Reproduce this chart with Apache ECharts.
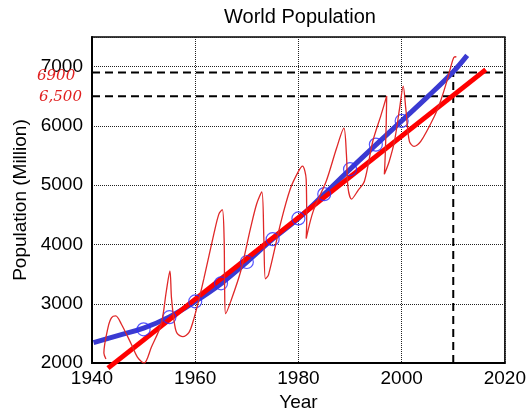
<!DOCTYPE html>
<html>
<head>
<meta charset="utf-8">
<script src="https://cdn.jsdelivr.net/npm/echarts@6/dist/echarts.min.js"></script>
<style>html,body{margin:0;padding:0;background:#fff}#c{width:529px;height:417px}</style>
</head>
<body>
<div id="c"></div>
<script>
// ---- data ----
const censusYears = [1950, 1955, 1960, 1965, 1970, 1975, 1980, 1985, 1990, 1995, 2000];
const censusPop = [2570, 2775, 3040, 3345, 3705, 4090, 4440, 4850, 5270, 5685, 6085];

const quadFitYears = [1940.3, 1945, 1950, 1955, 1960, 1965, 1970, 1975, 1980, 1985, 1990, 1995, 2000, 2005, 2010, 2012.7];
const quadFitPop = [2345, 2465, 2590, 2780, 3040, 3340, 3705, 4090, 4440, 4850, 5270, 5680, 6085, 6490, 6915, 7190];

const linFitYears = [1943.1, 2016.3];
const linFitPop = [1915, 6950];

const wiggleYears = [1942.7, 1942.3, 1943.1, 1943.8, 1944.6, 1945.7, 1947.6, 1948.8, 1950.1, 1951.5, 1953.4, 1954.4, 1955.1, 1955.4, 1956.0, 1956.5, 1957.6, 1958.8, 1959.8, 1960.8, 1961.7, 1963.7, 1964.6, 1965.25, 1965.6, 1965.7, 1965.9, 1966.9, 1968.8, 1970.7, 1971.9, 1972.9, 1973.3, 1973.6, 1974.2, 1976.6, 1978.4, 1980.0, 1980.8, 1981.5, 1981.6, 1981.5, 1982.9, 1985.4, 1987.4, 1988.8, 1989.3, 1989.6, 1990.3, 1991.5, 1992.8, 1994.4, 1996.0, 1997.1, 1997.0, 1996.8, 1996.65, 1997.6, 1998.6, 1999.6, 2000.3, 2000.8, 2001.5, 2002.4, 2003.7, 2006.3, 2007.6, 2008.8, 2009.5, 2010.1, 2010.6];
const wigglePop = [2070, 2170, 2600, 2767, 2795, 2655, 2322, 2100, 2000, 2267, 2655, 3212, 3555, 3100, 2655, 2500, 2445, 2517, 2767, 3100, 3433, 4212, 4517, 4588, 4100, 3267, 2833, 3045, 3545, 4267, 4683, 4888, 4100, 3422, 3488, 4378, 4933, 5233, 5322, 5100, 4378, 4100, 4572, 5072, 5628, 5962, 5517, 4962, 4767, 4905, 5072, 5738, 6183, 6505, 6017, 5462, 5183, 5405, 5738, 6295, 6672, 6295, 5738, 5655, 5738, 6155, 6433, 6767, 6988, 7155, 7167];

const refLevels = [6900, 6500];
const refYear = 2010;
const refYearTop = 7000;

const xTicks = [1940, 1960, 1980, 2000, 2020];
const yTicks = [2000, 3000, 4000, 5000, 6000, 7000];
const annotations = ['6900', '6,500'];

const titleText = 'World Population';
const xName = 'Year';
const yName = 'Population (Million)';

// ---- chart ----
const zip = (a, b) => a.map((v, i) => [v, b[i]]);
const chart = echarts.init(document.getElementById('c'), null, {renderer: 'canvas'});
const FONT = 'Liberation Sans, Arial, sans-serif';

const dashSeries = refLevels.map(v => ({
  type: 'line', data: [[xTicks[0], v], [xTicks[xTicks.length - 1], v]],
  symbol: 'none', lineStyle: {color: '#000', width: 2, type: [8, 5]}, z: 3, silent: true
}));

chart.setOption({
  animation: false,
  grid: {left: 92, right: 21, top: 37, bottom: 51, show: true, borderColor: '#000', borderWidth: 1.5, backgroundColor: '#fff'},
  graphic: [
    {type: 'text', x: 300, y: 7, style: {text: titleText, font: '20px ' + FONT, fill: '#000', textAlign: 'center'}, z: 10},
    {type: 'text', left: 37, top: 69, style: {text: annotations[0], font: 'italic 15px "DejaVu Serif"', fill: '#e02020'}, z: 10},
    {type: 'text', left: 39, top: 90, style: {text: annotations[1], font: 'italic 15px "DejaVu Serif"', fill: '#e02020'}, z: 10}
  ],
  xAxis: {
    type: 'value', min: 1940, max: 2020, interval: 20,
    name: xName, nameLocation: 'middle', nameGap: 26,
    nameTextStyle: {fontSize: 19, color: '#000', fontFamily: FONT},
    axisLine: {show: true, lineStyle: {color: '#000', width: 2}},
    axisTick: {show: false},
    axisLabel: {fontSize: 19, color: '#000', fontFamily: FONT, margin: 6,
      formatter: v => xTicks.includes(v) ? String(v) : ''},
    splitLine: {show: true, lineStyle: {color: '#222', width: 1, type: [1, 1]}}
  },
  yAxis: {
    type: 'value', min: 2000, max: 7500, interval: 1000,
    name: yName, nameLocation: 'middle', nameGap: 60,
    nameTextStyle: {fontSize: 19, color: '#000', fontFamily: FONT},
    axisLine: {show: true, lineStyle: {color: '#000', width: 2}},
    axisTick: {show: false},
    axisLabel: {fontSize: 19, color: '#000', fontFamily: FONT, margin: 9, showMaxLabel: false,
      formatter: v => yTicks.includes(v) ? String(v) : ''},
    splitLine: {show: true, lineStyle: {color: '#222', width: 1, type: [1, 1]}}
  },
  series: [
    ...dashSeries,
    {type: 'line', data: [[refYear, yTicks[0]], [refYear, refYearTop]], symbol: 'none',
      lineStyle: {color: '#000', width: 2, type: [8, 5]}, z: 3},
    {type: 'line', data: zip(quadFitYears, quadFitPop), symbol: 'none', smooth: 0.4,
      lineStyle: {color: '#3a3ad2', width: 5}, z: 4},
    {type: 'line', data: zip(linFitYears, linFitPop), symbol: 'none', clip: false,
      lineStyle: {color: '#ff0000', width: 5}, z: 5},
    {type: 'scatter', data: zip(censusYears, censusPop), symbol: 'circle', symbolSize: 13,
      itemStyle: {color: 'rgba(0,0,0,0)', borderColor: '#2a2aff', borderWidth: 1.2}, z: 6},
    {type: 'line', data: zip(wiggleYears, wigglePop), symbol: 'none', smooth: 0.3,
      lineStyle: {color: '#e02828', width: 1.3}, z: 7}
  ]
});
</script>
</body>
</html>
